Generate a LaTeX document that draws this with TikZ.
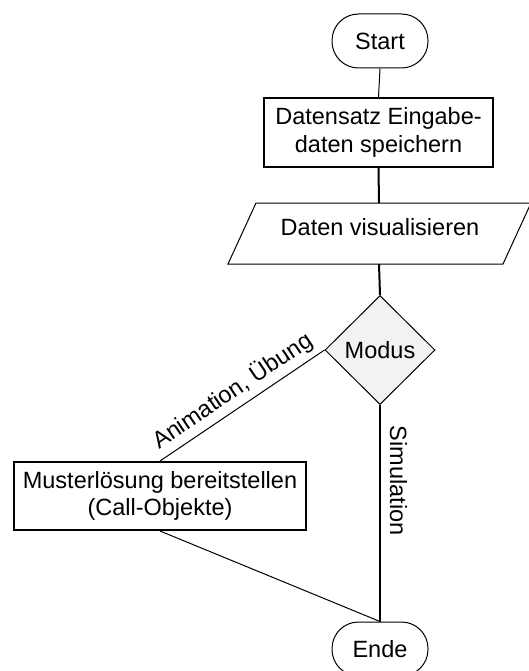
\documentclass[tikz,border=0pt]{standalone}
\usepackage{fontspec}
\setmainfont{Liberation Sans}
\usetikzlibrary{shapes.geometric}
\definecolor{decisionfill}{HTML}{F2F2F2}
\begin{document}
\begin{tikzpicture}[x=1pt,y=-1pt,
  font=\fontsize{23.5}{27.5}\selectfont,
  terminal/.style={draw, line width=1pt, rounded corners=26.5pt,
    minimum width=96pt, minimum height=54pt, inner sep=0pt},
  process/.style={draw, line width=2pt, align=center, inner sep=0pt},
  decision/.style={draw, line width=1pt, diamond, fill=decisionfill,
    minimum width=110pt, minimum height=109pt, inner sep=0pt},
  thinline/.style={line width=1pt},
  thickline/.style={line width=2pt}]
  \useasboundingbox (0,0) rectangle (529,671);

  % terminals
  \node[terminal] (start) at (380,41) {Start};
  \node[terminal] (ende) at (380,649) {Ende};

  % first process step
  \node[process, minimum width=229pt, minimum height=69pt] (store) at (378.5,132.5)
    {Datensatz Eingabe-\\daten speichern};

  % input/output parallelogram (its upper right corner runs off the page)
  \coordinate (pTL) at (256,203);
  \coordinate (pTR) at (531,203);
  \coordinate (pBR) at (503,264);
  \coordinate (pBL) at (228,264);
  \coordinate (paratop) at (379,203);
  \coordinate (parabot) at (379,264);
  \draw[thinline] (pTL) -- (pTR) -- (pBR) -- (pBL) -- cycle;
  \node[inner sep=0pt] (visual) at (380,227) {Daten visualisieren};

  % decision
  \node[decision] (modus) at (380,350) {Modus};

  % second process step
  \node[process, minimum width=292pt, minimum height=68pt] (solution) at (160,496)
    {Musterlösung bereitstellen\\(Call-Objekte)};

  % connectors
  \draw[thinline] (start.south) -- (store.north);
  \draw[thickline] (store.south) -- (paratop);
  \draw[thickline] (parabot) -- (modus.north);
  \draw[thinline] (modus.west) -- node[midway, sloped, above=5pt, inner sep=0pt]
    {Animation, Übung} (solution.north);
  \draw[thickline] (modus.south) -- node[pos=0.092, anchor=south west, rotate=-90,
    inner xsep=0pt, inner ysep=9pt] {Simulation} (ende.north);
  \draw[thinline] (solution.south) -- (ende.north);
\end{tikzpicture}
\end{document}
